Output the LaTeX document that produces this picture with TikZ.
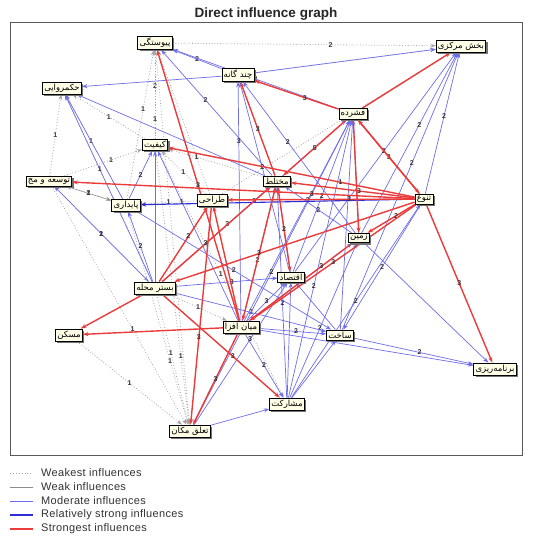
\documentclass[tikz,border=0pt]{standalone}
\usepackage{fontspec}
\setmainfont{Liberation Sans}
\newfontfamily\fa[Script=Arabic]{DejaVu Sans}
\TeXXeTstate=1
\usetikzlibrary{arrows.meta,shadows}
\newcommand{\pn}[1]{{\fa\beginR #1\endR}}
\definecolor{sred}{RGB}{235,60,60}
\definecolor{mblue}{RGB}{110,110,235}
\definecolor{rblue}{RGB}{45,45,215}
\definecolor{wgray}{RGB}{140,140,140}
\definecolor{dgray}{RGB}{165,165,165}
\definecolor{nodefill}{RGB}{255,255,232}
\pgfdeclarelayer{bg}
\pgfsetlayers{bg,main}
\tikzset{
 fac/.style={draw=black, line width=0.7pt, fill=nodefill, inner sep=1.8pt, font=\fontsize{8.5}{9}\selectfont\fa,
   drop shadow={shadow xshift=1.8pt, shadow yshift=-1.8pt, fill=black!55, opacity=1}},
 ed/.style={-{Stealth[length=5.5pt,width=4pt]}},
 e3/.style={ed, draw=sred, line width=1.4pt},
 e2/.style={ed, draw=mblue, line width=0.7pt},
 e2s/.style={ed, draw=rblue, line width=1.1pt},
 e1/.style={ed, draw=wgray, line width=0.5pt},
 e0/.style={ed, draw=dgray, line width=0.8pt, dotted},
 lab/.style={font=\fontsize{7}{7}\selectfont\bfseries, text=black!80, inner sep=0.5pt},
 lgtext/.style={anchor=west, inner sep=0pt, font=\fontsize{11}{11}\selectfont\addfontfeature{LetterSpace=3}, text=black!80},
}
\begin{document}
\begin{tikzpicture}[x=1pt,y=-1pt]
\useasboundingbox (0,0) rectangle (541,536);
\node[font=\fontsize{13.5}{14}\selectfont\bfseries, text=black!85] (title) at (266,14) {Direct influence graph};

% factors
\node[fac] (P) at (155,43) {\pn{پیوستگی}};
\node[fac] (C) at (238,75) {\pn{چند گانه}};
\node[fac] (B) at (461,46) {\pn{بخش مرکزی}};
\node[fac] (H) at (62,88) {\pn{حکمروایی}};
\node[fac] (F) at (353,114) {\pn{فشرده}};
\node[fac] (K) at (155,145) {\pn{کیفیت}};
\node[fac] (T) at (49,181) {\pn{توسعه و مج}};
\node[fac] (M) at (277,181) {\pn{مختلط}};
\node[fac] (N) at (424,199) {\pn{تنوع}};
\node[fac] (Y) at (126,205) {\pn{پایداری}};
\node[fac] (D) at (212,200) {\pn{طراحی}};
\node[fac] (Z) at (359,238) {\pn{زمین}};
\node[fac] (E) at (291,277) {\pn{اقتصاد}};
\node[fac] (S) at (155,288) {\pn{بستر محله}};
\node[fac] (A) at (241,327) {\pn{میان افزا}};
\node[fac] (X) at (340,335) {\pn{ساخت}};
\node[fac] (O) at (69,335) {\pn{مسکن}};
\node[fac] (R) at (495,369) {\pn{برنامه‌ریزی}};
\node[fac] (Q) at (287,404) {\pn{مشارکت}};
\node[fac] (L) at (190,431) {\pn{تعلق مکان}};

\begin{pgfonlayer}{bg}
\fill[white] (0,0) rectangle (541,536);
\draw[line width=0.8pt, black!65] (10,22) rectangle (522,455);
% weakest (dotted)
\draw[e0] (Y) -- node[lab,pos=0.6]{1} (P);
\draw[e0] (K) -- node[lab,pos=0.6]{2} (P);
\draw[e0] (S) -- node[lab,pos=0.7]{1} (P);
\draw[e0] (D) -- (P);
\draw[e0] (S) -- (H);
\draw[e0] (Y) -- node[lab,pos=0.55]{1} (H);
\draw[e0] (K) -- node[lab,pos=0.5]{1} (H);
\draw[e0] (T) -- node[lab,pos=0.5]{1} (H);
\draw[e0] (P) -- node[lab,pos=0.6]{2} (B);
\draw[e0] (C) -- (B);
\draw[e0] (D) -- (B);
\draw[e0] (T) -- node[lab,pos=0.6]{1} (K);
\draw[e0] (Y) -- node[lab,pos=0.5]{1} (T);
\draw[e0] (D) -- node[lab,pos=0.5]{1} (K);
\draw[e0] (M) -- node[lab,pos=0.7]{1} (K);
\draw[e0] (S) -- node[lab,pos=0.45]{1} (L);
\draw[e0] (Y) -- node[lab,pos=0.7]{1} (L);
\draw[e0] (O) -- node[lab,pos=0.5]{1} (L);
\draw[e0] (T) -- node[lab,pos=0.6]{1} (L);
\draw[e0] (P) -- (L);
\draw[e0] (S) -- node[lab,pos=0.5]{1} (A);
\draw[e0] (D) -- node[lab,pos=0.5]{1} (Y);
\draw[e0] (K) -- node[lab,pos=0.75]{1} (L);
\draw[e0] (T) -- node[lab,pos=0.5]{1} (S);
\draw[e0] (K) -- node[lab,pos=0.5]{1} (Q);
% weak
\draw[e1] (T) -- node[lab,pos=0.5]{2} (Y);
% moderate
\draw[e2] (C) -- (H);
\draw[e2] (C) -- (B);
\draw[e2] (C) -- node[lab,pos=0.5]{2} (P);
\draw[e2] (F) -- node[lab,pos=0.5]{2} (P);
\draw[e2] (M) -- node[lab,pos=0.6]{2} (P);
\draw[e2] (M) -- (H);
\draw[e2] (S) -- node[lab,pos=0.6]{1} (H);
\draw[e2] (Y) -- (H);
\draw[e2] (S) -- (K);
\draw[e2] (A) -- node[lab,pos=0.7]{1} (K);
\draw[e2] (S) -- node[lab,pos=0.5]{2} (Y);
\draw[e2] (A) -- node[lab,pos=0.45]{2} (M);
\draw[e2] (A) -- node[lab,pos=0.6]{3} (F);
\draw[e2] (A) -- node[lab,pos=0.5]{3} (E);
\draw[e2] (A) -- node[lab,pos=0.55]{2} (X);
\draw[e2] (A) -- node[lab,pos=0.5]{2} (Q);
\draw[e2] (E) -- node[lab,pos=0.5]{2} (F);
\draw[e2] (E) -- (M);
\draw[e2] (E) -- node[lab,pos=0.55]{2} (B);
\draw[e2] (X) -- node[lab,pos=0.6]{2} (B);
\draw[e2] (X) -- (F);
\draw[e2] (X) -- (E);
\draw[e2] (Q) -- node[lab,pos=0.4]{2} (F);
\draw[e2] (Q) -- node[lab,pos=0.45]{2} (Z);
\draw[e2] (Q) -- (E);
\draw[e2] (Q) -- node[lab,pos=0.45]{2} (M);
\draw[e2] (Q) -- node[lab,pos=0.5]{2} (N);
\draw[e2] (Z) -- node[lab,pos=0.6]{2} (B);
\draw[e2] (Z) -- (F);
\draw[e2] (Z) -- node[lab,pos=0.5]{2} (M);
\draw[e2] (N) -- node[lab,pos=0.55]{2} (B);
\draw[e2] (N) -- node[lab,pos=0.5]{2} (X);
\draw[e2] (X) -- node[lab,pos=0.55]{2} (R);
\draw[e2] (A) -- (R);
\draw[e2] (Z) -- (R);
\draw[e2] (Y) -- node[lab,pos=0.5]{2} (K);
\draw[e2] (L) -- node[lab,pos=0.6]{3} (E);
\draw[e2] (L) -- (Q);
\draw[e2] (E) -- node[lab,pos=0.55]{2} (C);
\draw[e2] (Z) -- node[lab,pos=0.6]{2} (C);
\draw[e2] (A) -- node[lab,pos=0.75]{3} (C);
\draw[e2] (S) -- node[lab,pos=0.6]{3} (M);
\draw[e2] (S) -- node[lab,pos=0.5]{3} (F);
\draw[e2] (S) -- node[lab,pos=0.55]{3} (E);
\draw[e2] (A) -- (Z);
\draw[e2] (Q) -- (X);
\draw[e2] (S) -- node[lab,pos=0.5]{2} (X);
\draw[e2] (Y) -- node[lab,pos=0.5]{2} (X);
\draw[e2] (S) -- node[lab,pos=0.5]{2} (T);
\draw[e2] (L) -- node[lab,pos=0.5]{2} (F);
% relatively strong
\draw[e2s] (N) -- (Y);
% strongest
\draw[e3] (N) -- node[lab,pos=0.3]{3} (T);
\draw[e3] (N) -- node[lab,pos=0.45]{3} (M);
\draw[e3] (N) -- node[lab,pos=0.5]{3} (F);
\draw[e3] (F) -- (N);
\draw[e3] (N) -- node[lab,pos=0.35]{3} (D);
\draw[e3] (N) -- node[lab,pos=0.4]{2} (Z);
\draw[e3] (N) -- node[lab,pos=0.5]{3} (A);
\draw[e3] (N) -- node[lab,pos=0.5]{3} (R);
\draw[e3] (N) -- node[lab,pos=0.3]{1} (K);
\draw[e3] (N) -- (S);
\draw[e3] (F) -- node[lab,pos=0.4]{3} (C);
\draw[e3] (M) -- node[lab,pos=0.5]{3} (C);
\draw[e3] (F) -- (B);
\draw[e3] (A) -- node[lab,pos=0.5]{3} (P);
\draw[e3] (A) -- (O);
\draw[e3] (S) -- (O);
\draw[e3] (A) -- node[lab,pos=0.5]{3} (L);
\draw[e3] (D) -- node[lab,pos=0.6]{3} (L);
\draw[e3] (S) -- node[lab,pos=0.6]{3} (Q);
\draw[e3] (M) -- node[lab,pos=0.5]{3} (A);
\draw[e3] (A) -- (D);
\draw[e3] (S) -- node[lab,pos=0.6]{2} (D);
\draw[e3] (S) -- node[lab,pos=0.4]{3} (M);
\draw[e3] (M) -- node[lab,pos=0.5]{2} (E);
\draw[e3] (F) -- (Z);
\draw[e3] (Z) -- node[lab,pos=0.3]{3} (A);
\draw[e3] (F) -- node[lab,pos=0.5]{5} (M);
\end{pgfonlayer}

% legend
\draw[dgray, dotted, line width=0.9pt] (10,473) -- (33,473);
\node[lgtext] (lg0) at (41,473) {Weakest influences};
\draw[wgray, line width=0.7pt] (10,487) -- (33,487);
\node[lgtext] (lg1) at (41,487) {Weak influences};
\draw[mblue, line width=0.8pt] (10,501) -- (33,501);
\node[lgtext] (lg2) at (41,501) {Moderate influences};
\draw[rblue, line width=1.2pt] (10,515) -- (33,515);
\node[lgtext] (lg3) at (41,515) {Relatively strong influences};
\draw[sred, line width=1.2pt] (10,529) -- (33,529);
\node[lgtext] (lg4) at (41,529) {Strongest influences};
\end{tikzpicture}
\end{document}
